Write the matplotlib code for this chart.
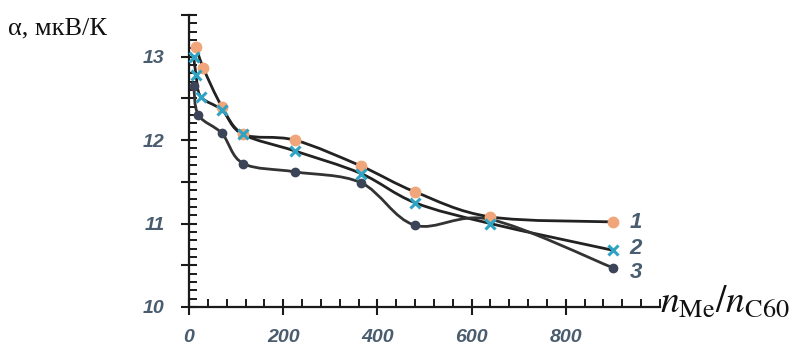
import numpy as np
import matplotlib
matplotlib.use("Agg")
import matplotlib.pyplot as plt
from matplotlib.path import Path
from matplotlib.patches import PathPatch
from matplotlib.transforms import IdentityTransform
from matplotlib.ticker import MultipleLocator, FixedLocator, FuncFormatter

# ---- data ----
x1 = [15, 30, 70, 115, 225, 365, 480, 640, 900]
y1 = [13.12, 12.87, 12.40, 12.07, 12.00, 11.69, 11.38, 11.08, 11.02]

x2 = [10, 15, 25, 70, 115, 225, 365, 480, 640, 900]
y2 = [13.00, 12.78, 12.52, 12.36, 12.07, 11.87, 11.60, 11.25, 11.00, 10.68]

x3 = [10, 20, 70, 115, 225, 365, 480, 640, 900]
y3 = [12.65, 12.30, 12.08, 11.72, 11.62, 11.49, 10.98, 11.05, 10.47]

series_labels = ["1", "2", "3"]
x_ticks = [0, 200, 400, 600, 800]
y_ticks = [10, 11, 12, 13]

plt.rcParams["mathtext.fontset"] = "stix"

fig = plt.figure(figsize=(7.99, 3.47), dpi=100)
ax = fig.add_axes([189/799, 1-307/347, 471/799, 292/347])

for s in ["top", "right"]:
    ax.spines[s].set_visible(False)
for s in ["left", "bottom"]:
    ax.spines[s].set_linewidth(1.6)
    ax.spines[s].set_color("#1a1a1a")

ax.xaxis.set_major_locator(FixedLocator(x_ticks))
ax.xaxis.set_minor_locator(MultipleLocator(40))
ax.yaxis.set_major_locator(MultipleLocator(0.5))
ax.yaxis.set_minor_locator(MultipleLocator(0.1))
ax.yaxis.set_major_formatter(FuncFormatter(
    lambda v, p: str(int(round(v))) if int(round(v)) in y_ticks and abs(v - round(v)) < 1e-6 else ""))

ax.tick_params(which="major", direction="inout", length=11, width=1.5, color="#1a1a1a")
ax.tick_params(which="minor", direction="in", length=6, width=1.4, color="#1a1a1a")
ax.tick_params(axis="y", which="major", pad=12)
ax.tick_params(axis="x", which="major", pad=10)
lab_col = "#4a5d6e"
ax.tick_params(labelsize=14, labelcolor=lab_col)

ax.set_xlim(0, 1000)
ax.set_ylim(10, 13.5)
fig.canvas.draw()
for t in ax.get_xticklabels() + ax.get_yticklabels():
    t.set_fontstyle("italic")
    t.set_fontweight("bold")
    t.set_family("Liberation Sans")


def smooth_path(ax, xs, ys, **kw):
    """Smoothed curve through the data points (Bezier segments in display space)."""
    pts = ax.transData.transform(np.column_stack([xs, ys]))
    n = len(pts)
    verts = [pts[0]]
    codes = [Path.MOVETO]
    t = 0.5 / 3.0
    for i in range(n - 1):
        p0 = pts[i - 1] if i > 0 else pts[i]
        p1 = pts[i]
        p2 = pts[i + 1]
        p3 = pts[i + 2] if i + 2 < n else pts[i + 1]
        c1 = p1 + (p2 - p0) * t
        c2 = p2 - (p3 - p1) * t
        verts += [c1, c2, p2]
        codes += [Path.CURVE4] * 3
    patch = PathPatch(Path(verts, codes), fill=False, **kw)
    patch.set_transform(IdentityTransform())
    patch.set_clip_on(False)
    ax.add_artist(patch)


line_col = "#222222"
smooth_path(ax, x1, y1, edgecolor=line_col, lw=2.0, zorder=2)
smooth_path(ax, x2, y2, edgecolor=line_col, lw=2.0, zorder=2)
smooth_path(ax, x3, y3, edgecolor="#333333", lw=2.0, zorder=2)

ax.plot(x1, y1, ls="none", marker="o", ms=7.5, color="#f0a67a", zorder=4, clip_on=False)
ax.plot(x2, y2, ls="none", marker="x", ms=6.5, mew=2.2, color="#2fa3c4", zorder=4, clip_on=False)
ax.plot(x3, y3, ls="none", marker="o", ms=6, color="#3c4458", zorder=3, clip_on=False)

for lab, ty in zip(series_labels, [11.01, 10.70, 10.41]):
    ax.text(935, ty, lab, fontsize=16, fontstyle="italic", fontweight="bold",
            color=lab_col, va="center", ha="left", family="Liberation Sans")

fig.text(8/799, 1-28/347, "α, мкВ/К", fontsize=19, family="Liberation Serif",
         va="center", ha="left", color="#111111")
fig.text(660/799, 1-302/347, r"$n_{\mathrm{Me}}/n_{\mathrm{C60}}$", fontsize=27,
         va="center", ha="left", color="#111111")

ax.set_xlim(0, 1000)
ax.set_ylim(10, 13.5)
fig.savefig("out.png", dpi=100)
